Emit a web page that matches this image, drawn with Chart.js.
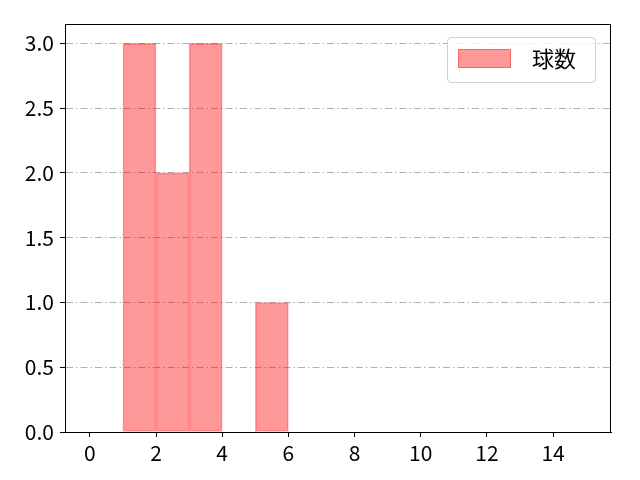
<!DOCTYPE html>
<html>
<head>
<meta charset="utf-8">
<script src="https://cdn.jsdelivr.net/npm/chart.js@4.4.1/dist/chart.umd.min.js"></script>
<style>
  html, body { margin: 0; padding: 0; background: #fff; }
</style>
</head>
<body>
<canvas id="chart" width="640" height="480"></canvas>
<script>
// histogram bins (width 1) and counts
const binCenters = [0.5, 1.5, 2.5, 3.5, 4.5, 5.5, 6.5, 7.5, 8.5, 9.5, 10.5, 11.5, 12.5, 13.5, 14.5];
const counts = [0, 3, 2, 3, 0, 1, 0, 0, 0, 0, 0, 0, 0, 0, 0];
const xTicks = [0, 2, 4, 6, 8, 10, 12, 14];
const yTicks = [0, 0.5, 1, 1.5, 2, 2.5, 3];
const seriesLabel = "球数";

const FONT = "'Noto Sans CJK JP', 'Noto Sans', sans-serif";

// full black frame around the plot area
const frame = {
    id: "frame",
    afterDraw(chart) {
        const { ctx, chartArea: a } = chart;
        ctx.save();
        ctx.strokeStyle = "#000";
        ctx.lineWidth = 1;
        ctx.strokeRect(a.left + 0.5, a.top + 0.5, a.right - a.left - 1, a.bottom - a.top);
        ctx.restore();
    }
};

// legend box in the upper right corner, like matplotlib's
const cornerLegend = {
    id: "cornerLegend",
    afterDraw(chart) {
        const { ctx, chartArea: a } = chart;
        const ds = chart.data.datasets[0];
        const w = 148, h = 45;
        const x = a.right - 16 - w, y = a.top + 13;
        ctx.save();
        ctx.beginPath();
        ctx.roundRect(x + 0.5, y + 0.5, w, h, 4);
        ctx.fillStyle = "rgba(255,255,255,0.8)";
        ctx.fill();
        ctx.strokeStyle = "#d0d0d0";
        ctx.lineWidth = 1;
        ctx.stroke();
        ctx.fillStyle = ds.backgroundColor;
        ctx.fillRect(x + 11, y + 12, 53, 19);
        ctx.strokeStyle = ds.borderColor;
        ctx.strokeRect(x + 11.5, y + 12.5, 52, 18);
        ctx.fillStyle = "#000";
        ctx.font = "22px " + FONT;
        ctx.textBaseline = "middle";
        ctx.fillText(ds.label, x + 85, y + 22);
        ctx.restore();
    }
};

new Chart(document.getElementById("chart"), {
    type: "bar",
    data: {
        datasets: [{
            label: seriesLabel,
            data: binCenters.map((c, i) => ({ x: c, y: counts[i] })),
            backgroundColor: "rgba(255, 0, 0, 0.4)",
            borderColor: "rgba(255, 0, 0, 0.35)",
            borderWidth: 1,
            borderSkipped: false,
            barPercentage: 1,
            categoryPercentage: 1
        }]
    },
    options: {
        responsive: false,
        animation: false,
        devicePixelRatio: 1,
        layout: { padding: { top: 24, right: 29, left: 0, bottom: 0 } },
        plugins: {
            legend: { display: false },
            tooltip: { enabled: false }
        },
        scales: {
            x: {
                type: "linear",
                offset: false,
                min: -0.75,
                max: 15.75,
                afterBuildTicks: scale => { scale.ticks = xTicks.map(v => ({ value: v })); },
                afterFit: scale => { scale.height = 48; },
                grid: { offset: false, drawOnChartArea: false, drawTicks: true, tickLength: 5, tickColor: "#000" },
                border: { color: "#000", width: 1 },
                ticks: { color: "#000", font: { family: FONT, size: 21 }, padding: 3, maxRotation: 0 }
            },
            y: {
                min: 0,
                max: 3.15,
                afterBuildTicks: scale => { scale.ticks = yTicks.map(v => ({ value: v })); },
                afterFit: scale => { scale.width = 65; },
                grid: { color: "#b0b0b0", lineWidth: 1, drawTicks: true, tickLength: 5, tickColor: "#000" },
                border: { color: "#000", width: 1, dash: [7, 3, 1.5, 3] },
                ticks: {
                    color: "#000",
                    font: { family: FONT, size: 21 },
                    padding: 6,
                    callback: v => v.toFixed(1)
                }
            }
        }
    },
    plugins: [frame, cornerLegend]
});
</script>
</body>
</html>
